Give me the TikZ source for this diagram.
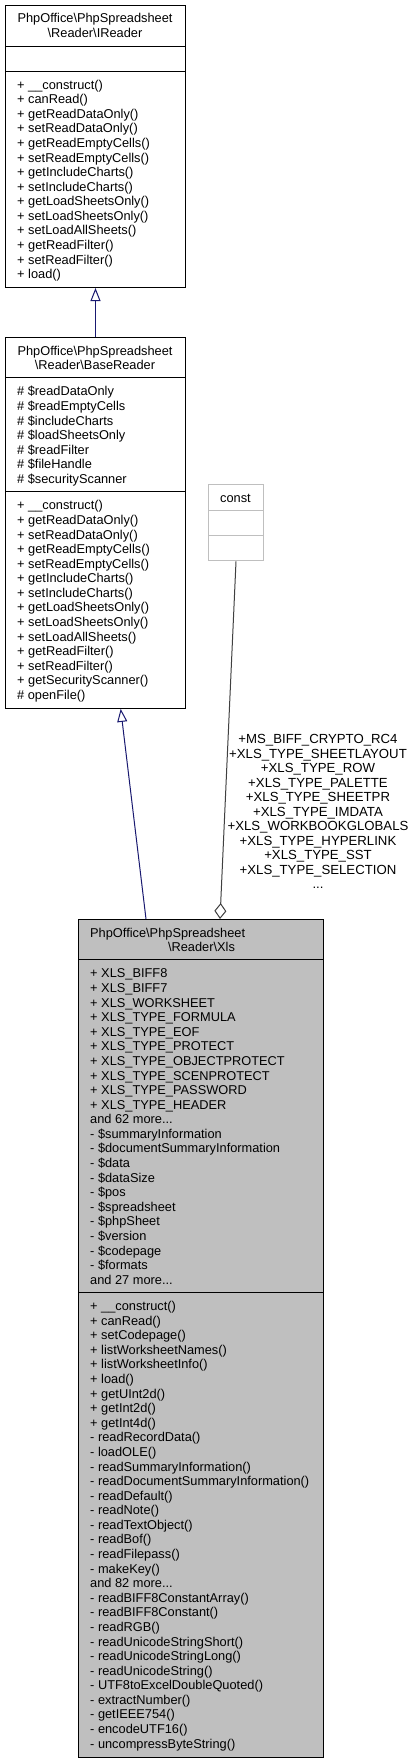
\documentclass[tikz,border=0pt]{standalone}
\usepackage{fontspec}
\setmainfont{Liberation Sans}
\usetikzlibrary{arrows.meta,calc}
\definecolor{navyedge}{HTML}{191970}
\definecolor{greyL}{HTML}{BFBFBF}
\definecolor{greyD}{HTML}{404040}
\newcommand\ddd{...}
\tikzset{
  classbox/.style={draw=black, line width=1pt, fill=white, inner sep=0pt, anchor=north west},
  constbox/.style={draw=greyL, line width=1pt, fill=white, inner sep=0pt, anchor=north west},
  mainbox/.style={draw=black, line width=1pt, fill=greyL, inner sep=0pt, anchor=north west},
  sepline/.style={draw=black, line width=1pt},
  constsep/.style={draw=greyL, line width=1pt},
  txt/.style={font=\fontsize{12.8}{14.58}\selectfont, inner sep=0pt, text=black},
  lbltxt/.style={font=\fontsize{13.2}{14.58}\selectfont, inner sep=0pt, text=black},
  inherit/.style={draw=navyedge, line width=1pt, -{Triangle[open, length=13pt, width=10pt, fill=white]}},
  usage/.style={draw=greyD, line width=1pt, -{Diamond[open, length=16pt, width=12pt, fill=white]}}
}
\newcommand\fieldlines[4]{% name, x, top, list
  \foreach \t [count=\i from 0] in {#4} {
    \node[txt, anchor=base west] (#1-\i) at (#2, #3+18+\i*14.583) {\t};
  }
}
\begin{document}
\begin{tikzpicture}[x=1pt, y=-1pt]
\useasboundingbox (0,0) rectangle (413,1763);
\fill[white] (0,0) rectangle (413,1763);

% ---------- IReader ----------
\node[classbox, minimum width=180pt, minimum height=282pt] (ireader) at (5,5) {};
\draw[sepline] (5,46.16) -- (185,46.16);
\draw[sepline] (5,71.16) -- (185,71.16);
\node[txt, anchor=base] (ireader-t1) at (95,23) {PhpOffice\textbackslash PhpSpreadsheet};
\node[txt, anchor=base] (ireader-t2) at (95,37.6) {\textbackslash Reader\textbackslash IReader};
\fieldlines{irm}{17}{71.16}{+ \_\_construct(), + canRead(), + getReadDataOnly(), + setReadDataOnly(), + getReadEmptyCells(), + setReadEmptyCells(), + getIncludeCharts(), + setIncludeCharts(), + getLoadSheetsOnly(), + setLoadSheetsOnly(), + setLoadAllSheets(), + getReadFilter(), + setReadFilter(), + load()}

% ---------- BaseReader ----------
\node[classbox, minimum width=180pt, minimum height=370.9pt] (base) at (5,337) {};
\draw[sepline] (5,377.96) -- (185,377.96);
\draw[sepline] (5,491.9) -- (185,491.9);
\node[txt, anchor=base] (base-t1) at (95,355) {PhpOffice\textbackslash PhpSpreadsheet};
\node[txt, anchor=base] (base-t2) at (95,369.6) {\textbackslash Reader\textbackslash BaseReader};
\fieldlines{bra}{17}{377.96}{\# \$readDataOnly, \# \$readEmptyCells, \# \$includeCharts, \# \$loadSheetsOnly, \# \$readFilter, \# \$fileHandle, \# \$securityScanner}
\fieldlines{brm}{17}{491.9}{+ \_\_construct(), + getReadDataOnly(), + setReadDataOnly(), + getReadEmptyCells(), + setReadEmptyCells(), + getIncludeCharts(), + setIncludeCharts(), + getLoadSheetsOnly(), + setLoadSheetsOnly(), + setLoadAllSheets(), + getReadFilter(), + setReadFilter(), + getSecurityScanner(), \# openFile()}

% ---------- const ----------
\node[constbox, minimum width=55pt, minimum height=76.4pt] (const) at (208,484) {};
\draw[constsep] (208,510.4) -- (263,510.4);
\draw[constsep] (208,535.4) -- (263,535.4);
\node[txt, anchor=base] (const-t) at (235.5,502) {const};

% ---------- Xls ----------
\node[mainbox, minimum width=245pt, minimum height=837.5pt] (xls) at (78,919) {};
\draw[sepline] (78,959.96) -- (323,959.96);
\draw[sepline] (78,1292.6) -- (323,1292.6);
\node[txt, anchor=base west] (xls-t1) at (90,937) {PhpOffice\textbackslash PhpSpreadsheet};
\node[txt, anchor=base] (xls-t2) at (201.5,951.6) {\textbackslash Reader\textbackslash Xls};
\fieldlines{xa}{90}{959.96}{+ XLS\_BIFF8, + XLS\_BIFF7, + XLS\_WORKSHEET, + XLS\_TYPE\_FORMULA, + XLS\_TYPE\_EOF, + XLS\_TYPE\_PROTECT, + XLS\_TYPE\_OBJECTPROTECT, + XLS\_TYPE\_SCENPROTECT, + XLS\_TYPE\_PASSWORD, + XLS\_TYPE\_HEADER, and 62 more\ddd, - \$summaryInformation, - \$documentSummaryInformation, - \$data, - \$dataSize, - \$pos, - \$spreadsheet, - \$phpSheet, - \$version, - \$codepage, - \$formats, and 27 more\ddd}
\fieldlines{xm}{90}{1292.6}{+ \_\_construct(), + canRead(), + setCodepage(), + listWorksheetNames(), + listWorksheetInfo(), + load(), + getUInt2d(), + getInt2d(), + getInt4d(), - readRecordData(), - loadOLE(), - readSummaryInformation(), - readDocumentSummaryInformation(), - readDefault(), - readNote(), - readTextObject(), - readBof(), - readFilepass(), - makeKey(), and 82 more\ddd, - readBIFF8ConstantArray(), - readBIFF8Constant(), - readRGB(), - readUnicodeStringShort(), - readUnicodeStringLong(), - readUnicodeString(), - UTF8toExcelDoubleQuoted(), - extractNumber(), - getIEEE754(), - encodeUTF16(), - uncompressByteString()}

% ---------- edges ----------
\draw[inherit] (base.north) -- (ireader.south);
\draw[inherit] ([xshift=68pt]xls.north west) -- ([xshift=115.7pt]base.south west);
\draw[usage] (const.south) -- ([xshift=142pt]xls.north west);

% edge label
\foreach \t [count=\i from 0] in {+MS\_BIFF\_CRYPTO\_RC4, +XLS\_TYPE\_SHEETLAYOUT, +XLS\_TYPE\_ROW, +XLS\_TYPE\_PALETTE, +XLS\_TYPE\_SHEETPR, +XLS\_TYPE\_IMDATA, +XLS\_WORKBOOKGLOBALS, +XLS\_TYPE\_HYPERLINK, +XLS\_TYPE\_SST, +XLS\_TYPE\_SELECTION, \ddd} {
  \node[lbltxt, anchor=base] (lbl-\i) at (318, 743.6+\i*14.52) {\t};
}
\end{tikzpicture}
\end{document}
